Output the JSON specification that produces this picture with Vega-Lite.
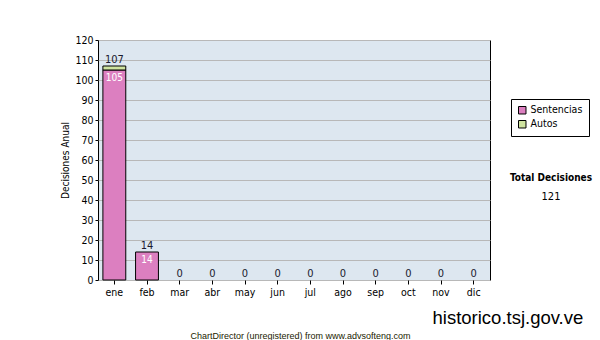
{
  "$schema": "https://vega.github.io/schema/vega-lite/v6.json",
  "width": 392,
  "height": 240,
  "autosize": "none",
  "padding": {"left": 98, "top": 40, "right": 110, "bottom": 60},
  "background": "white",
  "data": {
    "values": [
      {"month": "ene", "series": "Sentencias", "value": 105},
      {"month": "ene", "series": "Autos", "value": 2},
      {"month": "feb", "series": "Sentencias", "value": 14},
      {"month": "feb", "series": "Autos", "value": 0},
      {"month": "mar", "series": "Sentencias", "value": 0},
      {"month": "mar", "series": "Autos", "value": 0},
      {"month": "abr", "series": "Sentencias", "value": 0},
      {"month": "abr", "series": "Autos", "value": 0},
      {"month": "may", "series": "Sentencias", "value": 0},
      {"month": "may", "series": "Autos", "value": 0},
      {"month": "jun", "series": "Sentencias", "value": 0},
      {"month": "jun", "series": "Autos", "value": 0},
      {"month": "jul", "series": "Sentencias", "value": 0},
      {"month": "jul", "series": "Autos", "value": 0},
      {"month": "ago", "series": "Sentencias", "value": 0},
      {"month": "ago", "series": "Autos", "value": 0},
      {"month": "sep", "series": "Sentencias", "value": 0},
      {"month": "sep", "series": "Autos", "value": 0},
      {"month": "oct", "series": "Sentencias", "value": 0},
      {"month": "oct", "series": "Autos", "value": 0},
      {"month": "nov", "series": "Sentencias", "value": 0},
      {"month": "nov", "series": "Autos", "value": 0},
      {"month": "dic", "series": "Sentencias", "value": 0},
      {"month": "dic", "series": "Autos", "value": 0}
    ]
  },
  "title": {
    "text": "Total Decisiones",
    "subtitle": "121",
    "anchor": "start",
    "align": "center",
    "dx": 490,
    "dy": 171,
    "font": "DejaVu Sans Condensed",
    "fontSize": 10,
    "fontWeight": "bold",
    "color": "#000000",
    "subtitleFont": "DejaVu Sans Condensed",
    "subtitleFontSize": 11,
    "subtitleColor": "#000000",
    "subtitlePadding": 8
  },
  "encoding": {
    "x": {
      "field": "month",
      "type": "nominal",
      "sort": ["ene","feb","mar","abr","may","jun","jul","ago","sep","oct","nov","dic"],
      "scale": {"paddingInner": 0.3, "paddingOuter": 0.15},
      "axis": {
        "labelAngle": 0,
        "labelFont": "DejaVu Sans Condensed",
        "labelFontSize": 10.5,
        "labelColor": "#000000",
        "labelPadding": 3,
        "tickColor": "#000000",
        "tickSize": 4,
        "domain": false,
        "title": "historico.tsj.gov.ve",
        "titleFont": "Liberation Sans",
        "titleFontSize": 18.5,
        "titleFontWeight": "normal",
        "titleColor": "#000000",
        "titleAlign": "left",
        "titleAnchor": "start",
        "titleBaseline": "alphabetic",
        "titleX": 334,
        "titleY": 43
      }
    }
  },
  "layer": [
    {
      "transform": [{"filter": "datum.value > 0"}],
      "mark": {"type": "bar", "stroke": "#000000", "strokeWidth": 1, "opacity": 1},
      "encoding": {
        "y": {
          "field": "value",
          "type": "quantitative",
          "aggregate": "sum",
          "scale": {"domain": [0, 120], "nice": false},
          "axis": {
            "values": [0,10,20,30,40,50,60,70,80,90,100,110,120],
            "labelOverlap": false,
            "labelFont": "DejaVu Sans Condensed",
            "labelFontSize": 10.5,
            "labelColor": "#000000",
            "labelPadding": 2,
            "tickColor": "#000000",
            "tickSize": 3,
            "domain": false,
            "grid": true,
            "gridColor": "#b8b8b8",
            "gridWidth": 1,
            "title": "Decisiones Anual",
            "titleFont": "DejaVu Sans Condensed",
            "titleFontSize": 10,
            "titleFontWeight": "normal",
            "titleColor": "#000000",
            "titlePadding": 4
          }
        },
        "color": {
          "field": "series",
          "type": "nominal",
          "scale": {"domain": ["Sentencias", "Autos"], "range": ["#dc7fc0", "#cfe3a0"]},
          "legend": {
            "title": null,
            "orient": "none",
            "legendX": 413,
            "legendY": 59,
            "padding": 6,
            "strokeColor": "#000000",
            "fillColor": "#ffffff",
            "symbolType": "square",
            "symbolSize": 56,
            "symbolStrokeColor": "#000000",
            "symbolStrokeWidth": 1,
            "symbolOpacity": 1,
            "labelFont": "DejaVu Sans Condensed",
            "labelFontSize": 10.5,
            "labelColor": "#000000",
            "labelOffset": 3,
            "rowPadding": 2
          }
        },
        "order": {"field": "series", "sort": "descending"}
      }
    },
    {
      "transform": [
        {"aggregate": [{"op": "sum", "field": "value", "as": "total"}], "groupby": ["month"]}
      ],
      "mark": {"type": "text", "baseline": "bottom", "dy": -1, "font": "DejaVu Sans Condensed", "fontSize": 11, "color": "#1a1a2e"},
      "encoding": {
        "y": {"field": "total", "type": "quantitative", "scale": {"domain": [0, 120], "nice": false}, "axis": null},
        "text": {"field": "total", "type": "quantitative"}
      }
    },
    {
      "transform": [
        {"filter": "datum.series === 'Sentencias' && datum.value > 0"}
      ],
      "mark": {"type": "text", "baseline": "top", "dy": 3, "font": "DejaVu Sans Condensed", "fontSize": 10, "color": "#ffffff"},
      "encoding": {
        "y": {
          "field": "value",
          "type": "quantitative",
          "scale": {"domain": [0, 120], "nice": false},
          "axis": {
            "orient": "right",
            "labels": false,
            "ticks": false,
            "domain": false,
            "grid": false,
            "title": "ChartDirector (unregistered) from www.advsofteng.com",
            "titleAngle": 0,
            "titleFont": "Liberation Sans",
            "titleFontSize": 9,
            "titleFontWeight": "normal",
            "titleColor": "#222200",
            "titleAlign": "center",
            "titleBaseline": "middle",
            "titleX": -190,
            "titleY": 295
          }
        },
        "text": {"field": "value", "type": "quantitative"}
      }
    }
  ],
  "resolve": {"scale": {"y": "independent"}, "axis": {"y": "independent"}},
  "config": {
    "view": {"fill": "#dde7f0", "stroke": "#000000", "strokeWidth": 1},
    "axis": {"gridDash": []}
  }
}
